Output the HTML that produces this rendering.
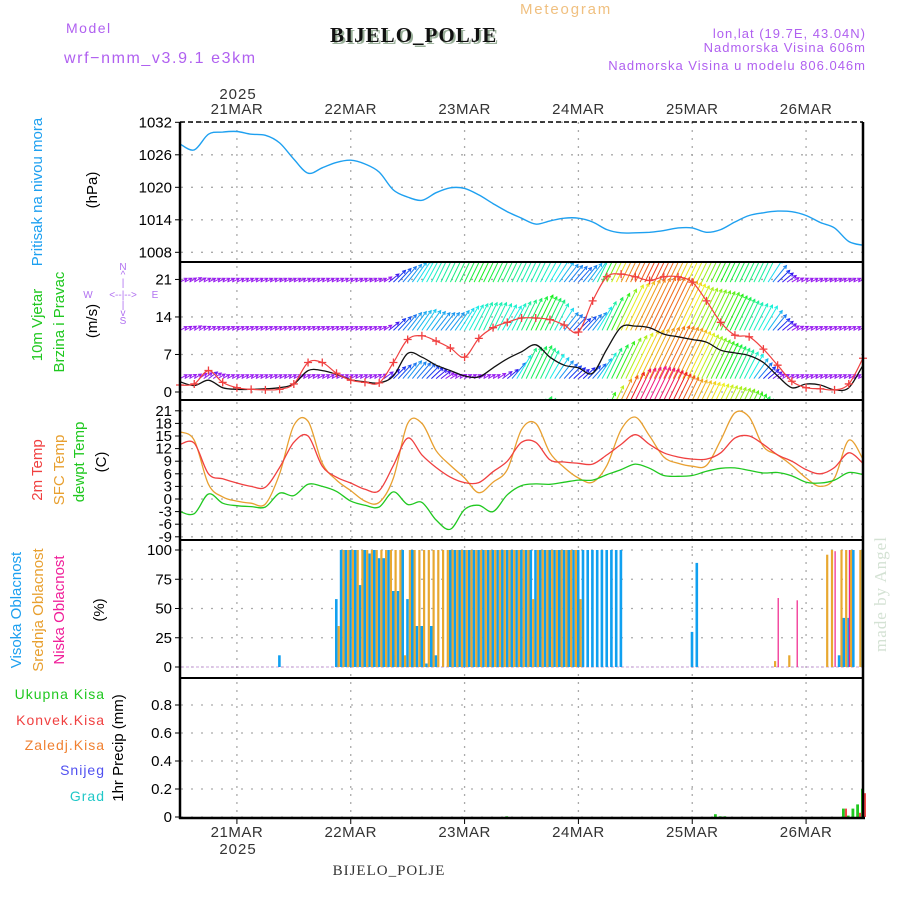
<!DOCTYPE html>
<html><head><meta charset="utf-8"><style>
html,body{margin:0;padding:0;background:#fff;}
svg{display:block;font-family:"Liberation Sans",sans-serif;}
</style></head><body>
<svg id="chart" xmlns="http://www.w3.org/2000/svg" width="900" height="900" viewBox="0 0 900 900">
<defs>
<clipPath id="clipWind"><rect x="181" y="263" width="682" height="136"/></clipPath>
<clipPath id="clipAll"><rect x="181" y="120" width="682" height="700"/></clipPath>
</defs>
<text x="66" y="33" font-size="14" fill="#b060f0" letter-spacing="1.5">Model</text>
<text x="64" y="63" font-size="16" fill="#b060f0" letter-spacing="1.6">wrf−nmm_v3.9.1 e3km</text>
<text x="332" y="44" font-size="21" font-weight="bold" font-family="Liberation Serif,serif" fill="#9ab09a" letter-spacing="1">BIJELO_POLJE</text>
<text x="330" y="42" font-size="21" font-weight="bold" font-family="Liberation Serif,serif" fill="#111" letter-spacing="1">BIJELO_POLJE</text>
<text x="520" y="14" font-size="15" fill="#f0c080" letter-spacing="1.8">Meteogram</text>
<text x="866" y="38" font-size="13" fill="#b060f0" text-anchor="end" letter-spacing="1">lon,lat (19.7E, 43.04N)</text>
<text x="866" y="52" font-size="13" fill="#b060f0" text-anchor="end" letter-spacing="1">Nadmorska Visina 606m</text>
<text x="866" y="70" font-size="13" fill="#b060f0" text-anchor="end" letter-spacing="1">Nadmorska Visina u modelu 806.046m</text>
<text x="238" y="99" font-size="15" fill="#333" text-anchor="middle" letter-spacing="1">2025</text>
<text x="238" y="854" font-size="15" fill="#333" text-anchor="middle" letter-spacing="1">2025</text>
<text x="389" y="875" font-size="15" font-family="Liberation Serif,serif" fill="#333" text-anchor="middle" letter-spacing="1">BIJELO_POLJE</text>
<text transform="translate(886,652) rotate(-90)" font-size="17" font-family="Liberation Serif,serif" fill="#d4e2d4" letter-spacing="1">made by Angel</text>
<text transform="translate(42,192) rotate(-90)" font-size="15" fill="#1ea0f0" text-anchor="middle">Pritisak na nivou mora</text>
<text transform="translate(97,190) rotate(-90)" font-size="15" fill="#000" text-anchor="middle">(hPa)</text>
<text transform="translate(42,325) rotate(-90)" font-size="15" fill="#20c820" text-anchor="middle">10m Vjetar</text>
<text transform="translate(64,322) rotate(-90)" font-size="15" fill="#20c820" text-anchor="middle">Brzina i Pravac</text>
<text transform="translate(97,321) rotate(-90)" font-size="15" fill="#000" text-anchor="middle">(m/s)</text>
<g font-size="10" fill="#b070f0" text-anchor="middle">
<text x="123" y="270">N</text><text x="123" y="278">^</text><text x="123" y="286">|</text>
<text x="88" y="298">W</text><text x="123" y="298">&lt;--|--&gt;</text><text x="155" y="298">E</text>
<text x="123" y="308">|</text><text x="123" y="316">v</text><text x="123" y="324">S</text>
</g>
<text transform="translate(42,470) rotate(-90)" font-size="15" fill="#f04040" text-anchor="middle">2m Temp</text>
<text transform="translate(64,470) rotate(-90)" font-size="15" fill="#e8a030" text-anchor="middle">SFC Temp</text>
<text transform="translate(84,462) rotate(-90)" font-size="15" fill="#20c820" text-anchor="middle">dewpt Temp</text>
<text transform="translate(106,462) rotate(-90)" font-size="15" fill="#000" text-anchor="middle">(C)</text>
<text transform="translate(21,610) rotate(-90)" font-size="15" fill="#1ea0f0" text-anchor="middle">Visoka Oblacnost</text>
<text transform="translate(43,610) rotate(-90)" font-size="15" fill="#e8a030" text-anchor="middle">Srednja Oblacnost</text>
<text transform="translate(64,610) rotate(-90)" font-size="15" fill="#f0209a" text-anchor="middle">Niska Oblacnost</text>
<text transform="translate(104,610) rotate(-90)" font-size="15" fill="#000" text-anchor="middle">(%)</text>
<g font-size="14" text-anchor="end" letter-spacing="1">
<text x="105" y="699" fill="#20c820">Ukupna Kisa</text>
<text x="105" y="725" fill="#f04040">Konvek.Kisa</text>
<text x="105" y="750" fill="#f08030">Zaledj.Kisa</text>
<text x="105" y="775" fill="#5050f0">Snijeg</text>
<text x="105" y="801" fill="#20c8c8">Grad</text>
</g>
<text transform="translate(123,748) rotate(-90)" font-size="15" fill="#000" text-anchor="middle">1hr Precip (mm)</text>
<g id="grid"></g>
<g id="marks"></g>
<g id="frame"></g>
</svg>
<script>
// ---- data (3-hourly from 20 MAR 12Z, hour offsets 0..144) ----
const dayLabels = ["21MAR","22MAR","23MAR","24MAR","25MAR","26MAR"];
const dayHours = [12,36,60,84,108,132];
const pressureTicks = [1032,1026,1020,1014,1008];
const windTicks = [21,14,7,0];
const tempTicks = [21,18,15,12,9,6,3,0,-3,-6,-9];
const cloudTicks = [100,75,50,25,0];
const precipTicks = [0.8,0.6,0.4,0.2,0];
const precipTickLabels = ["0.8","0.6","0.4","0.2","0"];

const pressure = [1028.0,1026.9,1029.8,1030.2,1030.3,1029.8,1029.6,1028.2,1025.2,1022.6,1023.6,1024.6,1025.0,1024.3,1022.8,1019.5,1018.2,1017.6,1019.0,1019.9,1019.8,1018.6,1017.0,1015.5,1014.3,1013.2,1013.8,1014.3,1014.3,1013.6,1012.2,1011.6,1011.6,1011.7,1012.0,1012.5,1012.5,1011.7,1012.2,1013.6,1014.8,1015.3,1015.6,1015.5,1014.8,1013.5,1012.5,1010.0,1009.3];
const temp2m = [13.0,13.3,6,4.8,3.8,3.0,2.8,7.5,13.5,15.0,7.8,5.2,3.8,2.3,2.0,8,14.5,10.5,7.5,5.2,3.9,3.9,6.5,9,13.5,13.5,9.3,8.8,8.5,8.3,10.5,13,15.3,13,11,10,9.5,9.5,11,14.5,15,13,10.5,9,7,6,7.5,11,8.5];
const tempSfc = [16.0,14,3.5,0.5,-0.5,-1.0,-1.2,6,17.5,18.5,8.5,4.5,2,-0.5,-0.8,5,18,18,11.5,8,5,1.5,4,7,16.5,18,11,7.5,5,4,8,16.5,19.5,15,10,8.5,7.8,8,14,20.5,19.5,12.5,10.5,8,5,3,5,14,9.5];
const dewpt = [-3.0,-3.5,1.2,-1.0,-1.6,-1.8,-1.9,1.4,0.8,3.5,3.0,1.8,-0.5,-1.5,-1.9,1.7,-1.3,-0.8,-5.0,-7.2,-2.5,-1.5,-3.0,1.0,3.2,3.6,3.5,4.0,4.5,4.5,5.8,7.0,8.3,7.3,5.6,5.4,5.6,6.6,7.3,7.4,6.8,6.2,6.3,5.5,4.0,3.8,4.5,6.3,5.8];
const windSpeed = [1.9,1.2,2.2,0.8,0.5,0.5,0.6,0.8,1.5,4.0,4.0,3.3,2.3,1.9,1.7,3.0,7.2,6.5,5.0,4.0,3.0,2.8,4.5,6.2,7.5,8.8,6.5,5.0,4.5,3.5,8.0,12.1,12.3,12.0,10.8,10.3,9.8,9.3,7.8,7.3,6.8,5.5,3.0,0.8,1.5,1.3,0.4,0.8,5.0];
const windGust = [1.3,1.5,4.0,1.8,0.8,0.5,0.4,0.5,1.5,5.5,5.5,3.5,2.2,1.8,1.7,5.5,9.8,10.5,9.5,8.2,6.5,10,12,13,13.8,13.8,13.5,12.5,11.2,17,21.5,22,21.5,20.8,21.5,21.5,20.5,17,13,10.6,10.3,8,5,2,0.8,0.6,0.4,1.5,6.3];
const windRowTop = [2,3,2,2,2,2,2,2,2,2,2,2,2,2,2,6,8,10,11,12,13,14,13,12,11,11,10,8,7,9,16,20,21,22,21,19,18,16,14,13,12,11,6,3,2,2,2,2,2];
const windRowMid = [2,3,2,2,2,2,2,2,2,2,2,2,2,2,2,6,8,9,8,8,10,11,11,10,12,14,12,8,6,8,13,18,20,21,21,19,17,16,15,13,11,10,6,3,2,2,2,2,2];
const windRowLow = [2,3,4,2.5,2,2,2,2,2,2.5,2,2,2,2,3,6,8,7,5,3,2.5,2.5,2.5,5,12,13,10,7,5,7,12,16,19,20,21,20,18,16,14,12,10,6,3,2,2,2,2,2,2];
const windRowBottom = [0,0,0,0,0,0,0,0,0,0,0,0,0,0,0,0,0,0,0,0,0,0,0,0,10,13,11,0,0,12,20,24,25,24,22,20,19,18,17,16,14,11,0,0,0,0,0,0,0];
const windRowLevels = [20.5,11.5,2.5,-7];

const cloudHighPairs = [[21,10],[33,58],[34,100],[35,100],[36,100],[37,100],[38,70],[39,100],[40,97],[41,100],[42,93],[43,93],[44,100],[45,65],[46,65],[47,100],[48,58],[49,100],[50,35],[51,35],[52,3],[53,35],[54,10],[57,100],[58,100],[59,100],[60,100],[61,100],[62,100],[63,100],[64,100],[65,100],[66,100],[67,100],[68,100],[69,100],[70,100],[71,100],[72,100],[73,100],[74,100],[75,100],[76,100],[77,100],[78,100],[79,100],[80,100],[81,100],[82,100],[83,100],[84,100],[85,100],[86,100],[87,100],[88,100],[89,100],[90,100],[91,100],[92,100],[93,100],[108,30],[109,89],[139,10],[140,42],[141,42],[142,100],[144,100]];
const cloudMidPairs = [[33,35],[34,100],[35,100],[36,100],[37,100],[38,100],[39,100],[40,100],[41,100],[42,100],[43,100],[44,100],[45,100],[46,100],[47,10],[48,100],[49,100],[50,100],[51,100],[52,100],[53,100],[54,100],[55,100],[56,100],[57,100],[58,100],[59,100],[60,100],[61,100],[62,100],[63,100],[64,100],[65,100],[66,100],[67,100],[68,100],[69,100],[70,100],[71,100],[72,100],[73,100],[74,58],[75,100],[76,100],[77,100],[78,100],[79,100],[80,100],[81,100],[82,100],[83,100],[84,58],[125,5],[128,10],[136,96],[137,100],[139,100],[140,100],[141,100],[143,100]];
const cloudLowPairs = [[126,59],[130,57],[138,99],[141,100]];
const precipTotalPairs = [[69,0.005],[113,0.02],[114,0.005],[115,0.005],[140,0.06],[141,0.01],[142,0.06],[143,0.09],[144,0.2]];
const precipConvPairs = [[140,0.06],[143,0.03],[144,0.17]];

const X0 = 180, PX_PER_H = 4.743;
function xH(h){ return X0 + h*PX_PER_H; }
function yP(p){ return 122.3 + (1032-p)*5.417; }
function yW(v){ return 392 - v*5.36; }
function yT(t){ return 499 - t*4.2; }
function yC(c){ return 667 - c*1.17; }
function yR(r){ return 817 - r*140; }

const NS="http://www.w3.org/2000/svg";
function mk(tag, attrs, parent){
  const e=document.createElementNS(NS,tag);
  for(const k in attrs) e.setAttribute(k,attrs[k]);
  parent.appendChild(e); return e;
}
const grid=document.getElementById('grid'), marks=document.getElementById('marks'), frame=document.getElementById('frame');

function hTicks(vals, yf, labels, name){
  vals.forEach((v,i)=>{
    const y=yf(v);
    const g=mk('line',{x1:181,x2:863,y1:y,y2:y,stroke:'#aaa','stroke-width':1.3,'stroke-dasharray':'2,8'},grid);
    
    
    mk('line',{x1:175,x2:180,y1:y,y2:y,stroke:'#000','stroke-width':1},frame);
    const t=mk('text',{x:172,y:y+5,'font-size':15,'text-anchor':'end',fill:'#000'},frame);
    t.textContent = labels ? labels[i] : String(v);
    
    
  });
}
hTicks(pressureTicks,yP,null,'pressure');
hTicks(windTicks,yW,null,'wind');
hTicks(tempTicks,yT,null,'temp');
hTicks(cloudTicks,yC,null,'cloud');
hTicks(precipTicks,yR,precipTickLabels,'precip');

dayHours.forEach((h,i)=>{
  const x=xH(h);
  const l=mk('line',{x1:x,x2:x,y1:122,y2:818,stroke:'#aaa','stroke-width':1.3,'stroke-dasharray':'2,6'},grid);
  
  
  const t1=mk('text',{x:x,y:114,'font-size':15,'text-anchor':'middle',fill:'#333','letter-spacing':0.5},frame);
  t1.textContent=dayLabels[i];
  
  
  const t2=mk('text',{x:x,y:837,'font-size':15,'text-anchor':'middle',fill:'#333','letter-spacing':0.5},frame);
  t2.textContent=dayLabels[i];
  
  
  mk('line',{x1:x,x2:x,y1:818,y2:824,stroke:'#000','stroke-width':1},frame);
});

mk('line',{x1:180,x2:863,y1:122,y2:122,stroke:'#000','stroke-width':1.5,'stroke-dasharray':'5,3'},frame);
[262,400,540,678].forEach(y=>mk('line',{x1:179,x2:864,y1:y,y2:y,stroke:'#000','stroke-width':2},frame));
mk('line',{x1:179,x2:865,y1:818,y2:818,stroke:'#000','stroke-width':2.5},frame);
mk('line',{x1:180,x2:180,y1:122,y2:819,stroke:'#000','stroke-width':2.5},frame);
mk('line',{x1:863,x2:863,y1:122,y2:819,stroke:'#000','stroke-width':2.5},frame);

function linePath(arr, yf){
  const pts=arr.map((v,i)=>[xH(i*3), yf(v)]);
  let d='M'+pts[0][0].toFixed(1)+','+pts[0][1].toFixed(1);
  for(let i=0;i<pts.length-1;i++){
    const p0=pts[Math.max(0,i-1)], p1=pts[i], p2=pts[i+1], p3=pts[Math.min(pts.length-1,i+2)];
    const c1=[p1[0]+(p2[0]-p0[0])/6, p1[1]+(p2[1]-p0[1])/6];
    const c2=[p2[0]-(p3[0]-p1[0])/6, p2[1]-(p3[1]-p1[1])/6];
    d+=` C${c1[0].toFixed(1)},${c1[1].toFixed(1)} ${c2[0].toFixed(1)},${c2[1].toFixed(1)} ${p2[0].toFixed(1)},${p2[1].toFixed(1)}`;
  }
  return d;
}
function addLine(arr,yf,color,name,w){
  const p=mk('path',{d:linePath(arr,yf),fill:'none',stroke:color,'stroke-width':w||1.3,'stroke-linejoin':'round','clip-path':'url(#clipAll)'},marks);
  
  
}

function speedColor(s){
  let hue = s<4 ? 275 : 275 - (s-3)*14;
  if(hue<0) hue+=360;
  return 'hsl('+hue.toFixed(0)+',88%,52%)';
}
function interp(arr,h){
  const i=Math.floor(h/3), f=(h-i*3)/3;
  if(i>=arr.length-1) return arr[arr.length-1];
  return arr[i]*(1-f)+arr[i+1]*f;
}
const windG=mk('g',{'clip-path':'url(#clipWind)'},marks);


[windRowTop,windRowMid,windRowLow,windRowBottom].forEach((row,ri)=>{
  const base=yW(windRowLevels[ri]);
  for(let h=0;h<=144;h+=1){
    const s=interp(row,h);
    if(s<=0.3) continue;
    const L=Math.max(8, s*2.8);
    const th=(Math.min(64, 20+s*4))*Math.PI/180;
    const x1=xH(h), x2=x1+L*Math.cos(th), y2=base-L*Math.sin(th);
    const c=speedColor(s);
    const a=mk('path',{d:`M${x1.toFixed(1)},${base.toFixed(1)} L${x2.toFixed(1)},${y2.toFixed(1)} M${(x2-3.5*Math.cos(th-0.5)).toFixed(1)},${(y2+3.5*Math.sin(th-0.5)).toFixed(1)} L${x2.toFixed(1)},${y2.toFixed(1)} L${(x2-3.5*Math.cos(th+0.5)).toFixed(1)},${(y2+3.5*Math.sin(th+0.5)).toFixed(1)}`,stroke:c,'stroke-width':1,fill:'none'},windG);
    
    
  }
});

addLine(pressure,yP,'#1ea0f0','pressure-line',1.4);
addLine(windSpeed,yW,'#111','wind-speed-line',1.3);
addLine(windGust,yW,'#f04040','wind-gust-line',1.2);
windGust.forEach((v,i)=>{
  const x=xH(i*3), y=yW(v);
  const m=mk('path',{d:`M${x-4},${y} L${x+4},${y} M${x},${y-4} L${x},${y+4}`,stroke:'#f04040','stroke-width':1.3},marks);
  
  
});
addLine(tempSfc,yT,'#e8a030','sfc-temp-line',1.3);
addLine(temp2m,yT,'#f04040','temp-2m-line',1.3);
addLine(dewpt,yT,'#20c820','dewpoint-line',1.3);

const cb=mk('line',{x1:181,x2:863,y1:667,y2:667,stroke:'#c8a0d8','stroke-width':1,'stroke-dasharray':'3,2'},marks);


function bars(pairs,yf,color,off,w,name){
  pairs.forEach(([h,v])=>{
    const x=xH(h)+off, y=yf(v);
    const r=mk('rect',{x:x.toFixed(1),y:y.toFixed(1),width:w,height:Math.max(0.8,yf(0)-y).toFixed(1),fill:color},marks);
    
    
  });
}
bars(cloudHighPairs,yC,'#10a0f0',-1.5,2.6,'high-cloud-bar');
bars(cloudMidPairs,yC,'#e8a830',1.1,2.2,'mid-cloud-bar');
bars(cloudLowPairs,yC,'#f0208a',0,1.2,'low-cloud-bar');
bars(precipTotalPairs,yR,'#20c820',-2,2.8,'total-precip-bar');
bars(precipConvPairs,yR,'#f04848',0.8,2.2,'convective-precip-bar');
</script>
</body></html>
